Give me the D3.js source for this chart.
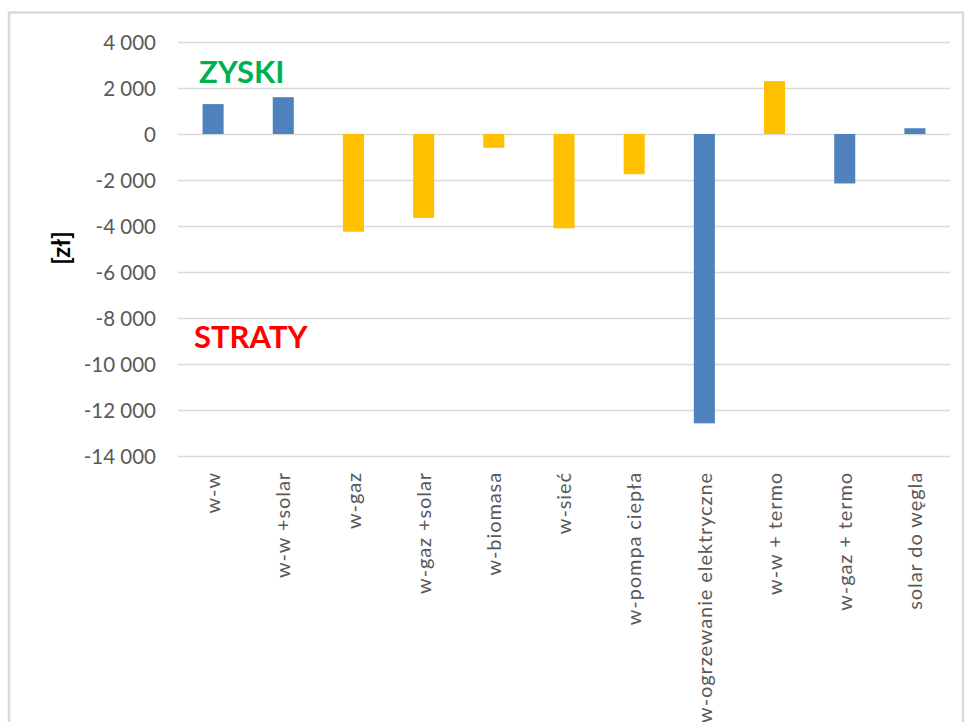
<!DOCTYPE html>
<html>
<head>
<meta charset="utf-8">
<script src="https://cdn.jsdelivr.net/npm/d3@7"></script>
<style>
  html, body { margin: 0; padding: 0; background: #fff; }
  svg { display: block; }
</style>
</head>
<body>
<svg id="chart" width="965" height="722"></svg>
<script>
const categories = ["w-w", "w-w +solar", "w-gaz", "w-gaz +solar", "w-biomasa", "w-sieć", "w-pompa ciepła", "w-ogrzewanie elektryczne", "w-w + termo", "w-gaz + termo", "solar do węgla"];
const values = [1300, 1600, -4250, -3650, -600, -4100, -1750, -12580, 2300, -2150, 250];
const barColors = ["#4f81bd", "#4f81bd", "#ffc000", "#ffc000", "#ffc000", "#ffc000", "#ffc000", "#4f81bd", "#ffc000", "#4f81bd", "#4f81bd"];
const yTicks = [4000, 2000, 0, -2000, -4000, -6000, -8000, -10000, -12000, -14000];
const yTitle = "[zł]";
const annotations = [{ text: "ZYSKI", value: 2700, color: "#00b050" }, { text: "STRATY", value: -8800, color: "#ff0000" }];

const svg = d3.select("#chart");
const font = "Lato, 'Liberation Sans', sans-serif";

// outer frame
svg.append("rect").attr("x", 9).attr("y", 12.5).attr("width", 954).attr("height", 720)
  .attr("fill", "none").attr("stroke", "#d9d9d9").attr("stroke-width", 2.5);

const left = 178, right = 950;
const y = d3.scaleLinear().domain([-14000, 4000]).range([456, 42]);
const x = d3.scaleBand().domain(categories).range([left, right]).paddingInner(0.7).paddingOuter(0.35);

// gridlines
svg.append("g").selectAll("line").data(yTicks).join("line")
  .attr("x1", left).attr("x2", right)
  .attr("y1", d => Math.round(y(d)) + 0.5).attr("y2", d => Math.round(y(d)) + 0.5)
  .attr("stroke", "#d9d9d9").attr("stroke-width", 1.3);

// y axis labels
const fmt = v => {
  const s = Math.abs(v).toString().replace(/\B(?=(\d{3})+(?!\d))/g, " ");
  return (v < 0 ? "-" : "") + s;
};
const yAxis = d3.axisLeft(y).tickValues(yTicks).tickFormat(fmt).tickSize(0).tickPadding(0);
const ya = svg.append("g").attr("transform", "translate(156,0)").call(yAxis);
ya.select(".domain").remove();
ya.selectAll("text").attr("font-family", font).attr("font-size", 20.5).attr("fill", "#595959").attr("dy", "0.36em");

// bars
svg.append("g").selectAll("rect").data(values).join("rect")
  .attr("x", (d, i) => x(categories[i]))
  .attr("width", x.bandwidth())
  .attr("y", d => y(Math.max(0, d)))
  .attr("height", d => Math.abs(y(d) - y(0)))
  .attr("fill", (d, i) => barColors[i]);

// x labels
const xAxis = d3.axisBottom(x).tickSize(0).tickPadding(0);
const xa = svg.append("g").attr("transform", "translate(0,472)").call(xAxis);
xa.select(".domain").remove();
xa.selectAll("text")
  .attr("font-family", font).attr("font-size", 20).attr("fill", "#595959")
  .attr("letter-spacing", 0.9)
  .attr("transform", "rotate(-90)")
  .attr("text-anchor", "end")
  .attr("x", 0).attr("y", 0).attr("dy", "0.36em");

// y title
svg.append("text").attr("transform", "translate(61,248) rotate(-90)")
  .attr("text-anchor", "middle").attr("dy", "0.36em")
  .attr("font-family", font).attr("font-weight", "bold").attr("font-size", 24).attr("fill", "#000")
  .text(yTitle);

// annotations
svg.append("g").selectAll("text").data(annotations).join("text")
  .attr("x", (d, i) => i === 0 ? 199 : 194)
  .attr("y", d => y(d.value))
  .attr("dy", "0.36em")
  .attr("font-family", font).attr("font-weight", "bold").attr("font-size", 31)
  .attr("fill", d => d.color)
  .text(d => d.text);
</script>
</body>
</html>
